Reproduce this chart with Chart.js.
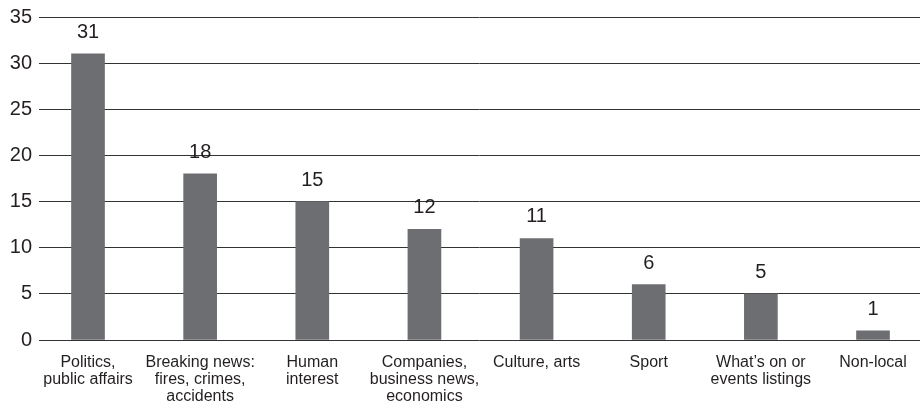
<!DOCTYPE html>
<html>
<head>
<meta charset="utf-8">
<script src="https://cdn.jsdelivr.net/npm/chart.js@4"></script>
<style>
 html,body{margin:0;padding:0;background:#fff;}
 #wrap{width:920px;height:408px;}
</style>
</head>
<body>
<div id="wrap"><canvas id="chart"></canvas></div>
<script>
const categories=[
 ['Politics,','public affairs'],
 ['Breaking news:','fires, crimes,','accidents'],
 ['Human','interest'],
 ['Companies,','business news,','economics'],
 ['Culture, arts'],
 ['Sport'],
 ["What\u2019s on or",'events listings'],
 ['Non-local']
];
const values=[31,18,15,12,11,6,5,1];
const yTicks=[0,5,10,15,20,25,30,35];

const barColor='#6d6e71';
const font="'Liberation Sans', Arial, sans-serif";

// numbers above the bars
const valueLabels={
 id:'valueLabels',
 afterDatasetsDraw(chart){
  const ctx=chart.ctx;
  const meta=chart.getDatasetMeta(0);
  ctx.save();
  ctx.font='20px '+font;
  ctx.fillStyle='#231f20';
  ctx.textAlign='center';
  ctx.textBaseline='alphabetic';
  meta.data.forEach((bar,i)=>{
   ctx.fillText(String(values[i]),bar.x,bar.y-16);
  });
  ctx.restore();
 }
};

const chart=new Chart(document.getElementById('chart'),{
 type:'bar',
 data:{
  datasets:[{
   data:values.map((v,i)=>({x:i,y:v})),
   backgroundColor:barColor,
   borderWidth:0,
   barThickness:33
  }]
 },
 options:{
  responsive:true,
  maintainAspectRatio:false,
  animation:false,
  layout:{padding:{top:9,right:0,left:0,bottom:0}},
  plugins:{legend:{display:false},tooltip:{enabled:false}},
  scales:{
   x:{
    type:'linear',
    offset:false,
    min:-0.437,
    max:7.419,
    grid:{display:false},
    border:{display:false},
    afterBuildTicks:s=>{s.ticks=categories.map((_,i)=>({value:i}));},
    afterFit:s=>{s.height=68;},
    ticks:{
     autoSkip:false,
     maxRotation:0,
     padding:6,
     color:'#231f20',
     font:{family:font,size:16,lineHeight:1.06},
     callback:(v)=>categories[v]
    }
   },
   y:{
    min:0,
    max:35,
    afterBuildTicks:s=>{s.ticks=yTicks.map(v=>({value:v}));},
    afterFit:s=>{s.width=39;},
    grid:{color:'#333',lineWidth:1,drawTicks:false},
    border:{display:false},
    ticks:{
     padding:7,
     color:'#231f20',
     font:{family:font,size:20,lineHeight:1}
    }
   }
  }
 },
 plugins:[valueLabels]
});
</script>
</body>
</html>
